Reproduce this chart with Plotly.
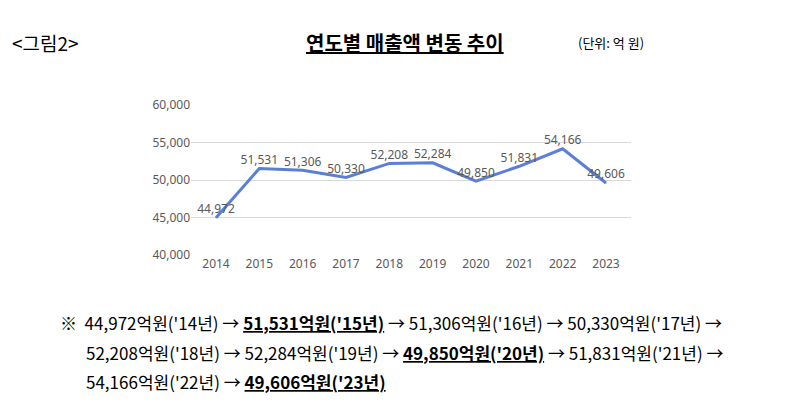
import plotly.graph_objects as go

years = [2014, 2015, 2016, 2017, 2018, 2019, 2020, 2021, 2022, 2023]
sales = [44972, 51531, 51306, 50330, 52208, 52284, 49850, 51831, 54166, 49606]
yticks = [40000, 45000, 50000, 55000, 60000]

fig = go.Figure(go.Scatter(
    x=[str(y) for y in years], y=sales, mode="lines+markers+text",
    line=dict(color="#5B7FD6", width=3), marker=dict(size=1, color="#5B7FD6"),
    text=[f"{v:,}" for v in sales], textposition="top center",
    textfont=dict(family="Noto Sans", size=12, color="#595959"),
    cliponaxis=False, hoverinfo="skip"))

F = "Noto Sans CJK KR"
L, R, T, B = 183, 187, 97, 168
fig.update_layout(
    width=810, height=415, plot_bgcolor="white", paper_bgcolor="white",
    margin=dict(l=L, r=R, t=T, b=B), showlegend=False,
    xaxis=dict(type="category", showgrid=False, ticks="", showline=False,
               tickfont=dict(family="Noto Sans", size=12, color="#595959")),
    yaxis=dict(range=[40000, 60000], tickvals=yticks, tickformat=",",
               showgrid=True, gridcolor="#D9D9D9", zeroline=False, showline=False,
               tickfont=dict(family="Noto Sans", size=12, color="#595959")),
    annotations=[
        dict(x=2, y=34, text="<그림2>", showarrow=False,
             font=dict(family=F, size=19, color="black"), xanchor="left", yanchor="middle"),
        dict(x=397, y=34, text="<b><u>연도별 매출액 변동 추이</u></b>", showarrow=False,
             font=dict(family=F, size=20, color="black"), xanchor="center", yanchor="middle"),
        dict(x=568, y=34, text="(단위: 억 원)", showarrow=False,
             font=dict(family=F, size=13, color="black"), xanchor="left", yanchor="middle"),
        dict(x=50, y=314, text="※  44,972억원('14년) → <b><u>51,531억원('15년)</u></b> → 51,306억원('16년) → 50,330억원('17년) →",
             showarrow=False, font=dict(family=F, size=17, color="black"), xanchor="left", yanchor="middle"),
        dict(x=76, y=344, text="52,208억원('18년) → 52,284억원('19년) → <b><u>49,850억원('20년)</u></b> → 51,831억원('21년) →",
             showarrow=False, font=dict(family=F, size=17, color="black"), xanchor="left", yanchor="middle"),
        dict(x=76, y=373, text="54,166억원('22년) → <b><u>49,606억원('23년)</u></b>",
             showarrow=False, font=dict(family=F, size=17, color="black"), xanchor="left", yanchor="middle"),
    ])
pw, ph = 810 - L - R, 415 - T - B
for a in fig.layout.annotations:
    a.xref = "paper"; a.yref = "paper"
    a.x = (a.x - L) / pw
    a.y = (415 - B - a.y) / ph
fig.write_html("out.html")
